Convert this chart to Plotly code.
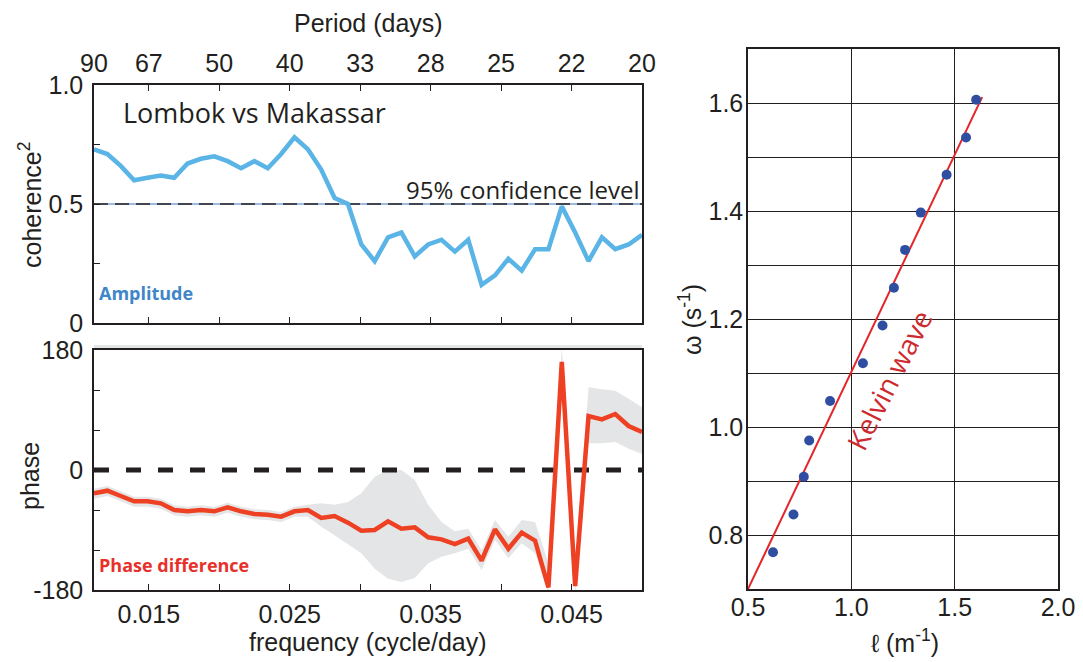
import numpy as np
import plotly.graph_objects as go

# ---- spectral data: Lombok vs Makassar ----
# frequency grid (cycle/day), 42 spectral estimates from 1/90 to 1/20
freq = np.linspace(1 / 90, 1 / 20, 42)

coherence_sq = [0.73, 0.71, 0.66, 0.60, 0.61, 0.62, 0.61, 0.67, 0.69, 0.70,
                0.68, 0.65, 0.68, 0.65, 0.71, 0.78, 0.73, 0.645, 0.525, 0.50,
                0.33, 0.26, 0.36, 0.38, 0.28, 0.33, 0.35, 0.30, 0.35, 0.16,
                0.20, 0.27, 0.22, 0.31, 0.31, 0.49, 0.38, 0.26, 0.36, 0.31,
                0.33, 0.37]

phase_deg = [-35, -31, -39, -47, -47, -50, -60, -62, -60, -62,
             -56, -62, -66, -67, -70, -62, -60, -72, -69, -79,
             -91, -90, -77, -88, -86, -101, -104, -111, -103, -136,
             -89, -118, -94, -106, -176, 162, -174, 81, 76, 84,
             66, 57]

phase_upper = [-28, -24, -32, -40, -40, -43, -53, -55, -53, -55,
               -49, -55, -59, -60, -63, -55, -52, -50, -52, -48,
               -35, -10, 0, 0, -15, -52, -78, -92, -88, -120,
               -75, -100, -75, -78, -140, 185, -140, 124, 121, 119,
               107, 94]

phase_lower = [-43, -39, -47, -55, -55, -58, -68, -70, -68, -70,
               -64, -70, -74, -75, -78, -70, -70, -85, -98, -112,
               -125, -148, -163, -168, -162, -140, -130, -125, -118, -150,
               -105, -132, -110, -125, -185, 120, -185, 40, 40, 42,
               32, 24]

confidence_95 = 0.5

# period axis (top): tick frequencies and their period labels
period_tick_freq = [1 / 90, 0.015, 0.020, 0.025, 0.030, 0.035, 0.040, 0.045, 0.050]
period_tick_text = ["90", "67", "50", "40", "33", "28", "25", "22", "20"]

freq_tick_vals = [0.015, 0.020, 0.025, 0.030, 0.035, 0.040, 0.045]
freq_tick_text = ["0.015", "", "0.025", "", "0.035", "", "0.045"]

# ---- dispersion data ----
wavenumber = [0.621, 0.720, 0.770, 0.796, 0.897, 1.056, 1.151, 1.206,
              1.260, 1.336, 1.461, 1.555, 1.604]
omega = [0.768, 0.838, 0.908, 0.975, 1.048, 1.118, 1.188, 1.258,
         1.328, 1.397, 1.467, 1.536, 1.606]

kelvin_l = [0.5, 1.633]
kelvin_omega = [0.70, 1.611]

# ---- figure geometry (pixels) ----
W, H = 1083, 662


def px(x):
    return x / W


def py(y):
    return 1 - y / H


INK = "#231f20"
TICK_FONT = dict(family="Liberation Sans, Arial, sans-serif", size=25, color=INK)
BLUE = "#5bb4e6"
RED = "#ee4123"
BAND = "#e4e5e6"

fig = go.Figure()

# top panel: coherence
fig.add_trace(go.Scatter(x=[freq[0], freq[-1]], y=[confidence_95] * 2, mode="lines",
                         line=dict(color="#3a78c0", width=1), xaxis="x", yaxis="y",
                         hoverinfo="skip"))
fig.add_trace(go.Scatter(x=[freq[0], freq[-1]], y=[confidence_95] * 2, mode="lines",
                         line=dict(color=INK, width=1.5, dash="14px,7px"),
                         xaxis="x", yaxis="y", hoverinfo="skip"))
fig.add_trace(go.Scatter(x=freq, y=coherence_sq, mode="lines",
                         line=dict(color=BLUE, width=4.5), xaxis="x", yaxis="y"))

# bottom panel: phase with uncertainty band
fig.add_trace(go.Scatter(x=freq, y=phase_upper, mode="lines", line=dict(width=0),
                         xaxis="x2", yaxis="y2", hoverinfo="skip"))
fig.add_trace(go.Scatter(x=freq, y=phase_lower, mode="lines", line=dict(width=0),
                         fill="tonexty", fillcolor=BAND, xaxis="x2", yaxis="y2",
                         hoverinfo="skip"))
fig.add_trace(go.Scatter(x=[freq[0], freq[-1]], y=[0, 0], mode="lines",
                         line=dict(color=INK, width=5, dash="15px,17px"),
                         xaxis="x2", yaxis="y2", hoverinfo="skip"))
fig.add_trace(go.Scatter(x=freq, y=phase_deg, mode="lines",
                         line=dict(color=RED, width=4.5), xaxis="x2", yaxis="y2"))

# right panel: dispersion relation
fig.add_trace(go.Scatter(x=kelvin_l, y=kelvin_omega, mode="lines",
                         line=dict(color="#e3262a", width=2), xaxis="x3", yaxis="y3"))
fig.add_trace(go.Scatter(x=wavenumber, y=omega, mode="markers",
                         marker=dict(color="#2f4ea1", size=10), xaxis="x3", yaxis="y3"))

left_dom = [px(94), px(642)]
common_x = dict(range=[1 / 90, 1 / 20], showgrid=False, zeroline=False,
                showline=True, linecolor=INK, linewidth=1.5, automargin=False,
                ticks="inside", ticklen=6, tickwidth=1.2, tickcolor=INK,
                tickfont=TICK_FONT, domain=left_dom)
common_y = dict(showgrid=False, zeroline=False, showline=True, linecolor=INK,
                linewidth=1.5, ticks="inside", ticklen=6, tickwidth=1.2,
                tickcolor=INK, tickfont=TICK_FONT, mirror=True, ticklabelstandoff=4,
                automargin=False)

fig.update_layout(
    width=W, height=H, margin=dict(l=0, r=0, t=0, b=0, autoexpand=False),
    paper_bgcolor="white", plot_bgcolor="white", showlegend=False,
    xaxis=dict(common_x, anchor="y", side="top", mirror="ticks",
               tickvals=period_tick_freq, ticktext=period_tick_text,
               ticklabelstandoff=1),
    yaxis=dict(common_y, anchor="x", domain=[py(323), py(85)], range=[0, 1],
               tickvals=[0, 0.25, 0.5, 0.75, 1.0], ticktext=["0", "", "0.5", "", "1.0"]),
    xaxis2=dict(common_x, anchor="y2", side="bottom", mirror=True,
                tickvals=freq_tick_vals, ticktext=freq_tick_text,
                ticklabelstandoff=1),
    yaxis2=dict(common_y, anchor="x2", domain=[py(590), py(350)], range=[-180, 180],
                tickvals=[-180, -120, -60, 0, 60, 120, 180],
                ticktext=["-180", "", "", "0", "", "", "180"]),
    xaxis3=dict(anchor="y3", domain=[px(748), px(1058)], range=[0.5, 2.0],
                tickvals=[0.5, 1.0, 1.5, 2.0], ticktext=["0.5", "1.0", "1.5", "2.0"],
                showgrid=True, gridcolor=INK, gridwidth=1, zeroline=False,
                showline=True, linecolor=INK, linewidth=1.5, mirror=True,
                ticks="", tickfont=TICK_FONT, ticklabelstandoff=-5, automargin=False),
    yaxis3=dict(anchor="x3", domain=[py(589), py(49)], range=[0.7, 1.7],
                tickvals=[0.7, 0.8, 0.9, 1.0, 1.1, 1.2, 1.3, 1.4, 1.5, 1.6, 1.7],
                ticktext=["", "0.8", "", "1.0", "", "1.2", "", "1.4", "", "1.6", ""],
                showgrid=True, gridcolor=INK, gridwidth=1, zeroline=False,
                showline=True, linecolor=INK, linewidth=1.5, mirror=True,
                ticks="", tickfont=TICK_FONT, ticklabelstandoff=-2, automargin=False),
)

# light strip just above the phase panel
fig.add_shape(type="rect", xref="paper", yref="paper",
              x0=px(94), x1=px(642), y0=py(350), y1=py(345),
              fillcolor=BAND, line=dict(width=0), layer="below")

TITLE_FONT = dict(family="Liberation Sans, Arial, sans-serif", size=25, color=INK)
LABEL_FONT = "Open Sans, Noto Sans, sans-serif"


def note(text, x, y, font, angle=0, xanchor="center"):
    fig.add_annotation(text=text, xref="paper", yref="paper", x=px(x), y=py(y),
                       xanchor=xanchor, yanchor="middle", showarrow=False,
                       textangle=angle, font=font)


note("Period (days)", 368, 23, TITLE_FONT)
note("frequency (cycle/day)", 368, 642, TITLE_FONT)
note("coherence<sup>2</sup>", 30, 205, TITLE_FONT, angle=-90)
note("phase", 30, 476, TITLE_FONT, angle=-90)
note("ω (s<sup>-1</sup>)", 690, 320, TITLE_FONT, angle=-90)
note("ℓ (m<sup>-1</sup>)", 905, 641, TITLE_FONT)

note("Lombok vs Makassar", 121, 112, dict(family=LABEL_FONT, size=27, color=INK),
     xanchor="left")
note("95% confidence level", 641, 189, dict(family=LABEL_FONT, size=24, color=INK),
     xanchor="right")
note("<b>Amplitude</b>", 97, 293, dict(family=LABEL_FONT, size=18, color="#3f86c8"),
     xanchor="left")
note("<b>Phase difference</b>", 97, 565, dict(family=LABEL_FONT, size=18, color="#e8302a"),
     xanchor="left")
note("Kelvin wave", 889, 380, dict(family=LABEL_FONT, size=28, color="#cd2a2f"),
     angle=-63)

fig.write_html("out.html")
